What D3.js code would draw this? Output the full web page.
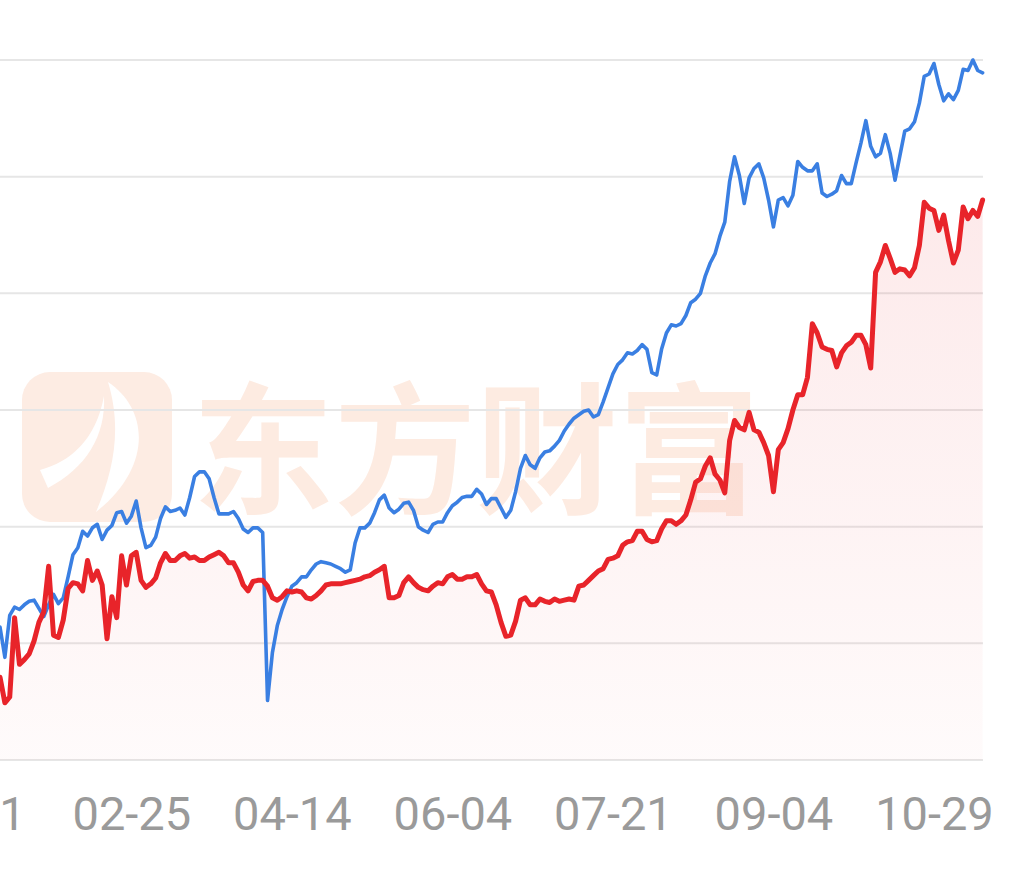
<!DOCTYPE html>
<html><head><meta charset="utf-8">
<script src="https://cdn.jsdelivr.net/npm/d3@7"></script>
<style>html,body{margin:0;padding:0;background:#fff;overflow:hidden}</style>
</head><body><svg id="chart" width="1014" height="872"></svg>
<script>
// Cumulative return (%) by trading day index
const blueSeries = [1.4,-1.2,2.4,3.1,2.9,3.3,3.6,3.7,3.0,2.3,
3.3,4.2,3.4,3.9,5.7,7.6,8.2,9.6,9.2,9.9,
10.2,8.9,9.7,10.1,11.2,11.3,10.3,10.9,12.2,9.9,
8.2,8.4,9.1,10.7,11.7,11.3,11.4,11.6,11.0,12.5,
14.3,14.7,14.7,14.1,12.5,11.1,11.1,11.1,11.3,10.7,
9.8,9.5,9.9,9.9,9.5,-4.9,-0.8,1.5,2.9,4.0,
4.9,5.2,5.7,5.7,6.3,6.8,7.0,6.9,6.8,6.6,
6.4,6.1,6.3,8.6,9.9,9.9,10.3,11.2,12.3,12.7,
11.6,11.2,11.5,12.0,12.1,11.4,10.0,9.7,9.5,10.2,
10.4,10.4,11.2,11.8,12.1,12.5,12.6,12.6,13.2,12.8,
11.9,12.4,12.4,11.6,10.8,11.4,13.0,15.0,16.1,15.3,
15.0,15.9,16.4,16.5,16.9,17.4,18.2,18.8,19.3,19.6,
19.9,20.0,19.4,19.6,20.7,21.9,23.1,23.9,24.3,24.9,
24.8,25.1,25.6,25.2,23.2,23.0,25.2,26.6,27.3,27.2,
27.4,28.1,29.2,29.5,30.0,31.5,32.6,33.4,34.9,36.1,
39.6,41.7,40.1,37.7,39.9,40.7,41.1,39.9,38.0,35.7,
38.0,38.2,37.5,38.4,41.3,40.8,40.5,40.5,41.1,38.6,
38.3,38.5,38.8,40.1,39.4,39.4,41.2,42.9,44.8,42.6,
41.7,42.0,43.6,42.0,39.7,41.8,43.9,44.1,44.7,46.3,
48.6,48.8,49.7,47.9,46.5,47.1,46.6,47.4,49.2,49.1,
50.0,49.1,48.9];

const redSeries = [-2.9,-5.1,-4.6,2.2,-1.8,-1.4,-0.9,0.2,1.8,2.7,
6.6,0.7,0.5,2.0,4.7,5.2,5.1,4.5,7.1,5.4,
6.2,5.0,0.4,4.0,2.2,7.5,5.0,7.5,7.8,5.4,
4.8,5.1,5.6,6.9,7.7,7.1,7.1,7.5,7.7,7.3,
7.4,7.1,7.1,7.4,7.6,7.8,7.5,6.9,6.9,6.1,
5.0,4.5,5.3,5.4,5.4,4.9,3.9,3.7,4.0,4.5,
4.4,4.5,4.4,3.9,3.8,4.1,4.5,5.0,5.1,5.1,
5.1,5.2,5.3,5.4,5.5,5.7,5.8,6.1,6.3,6.6,
3.9,3.9,4.1,5.2,5.7,5.2,4.8,4.6,4.5,4.9,
5.2,5.1,5.7,5.9,5.5,5.5,5.7,5.7,5.9,5.1,
4.5,4.4,3.3,1.8,0.6,0.7,1.9,3.7,3.9,3.3,
3.3,3.8,3.6,3.5,3.8,3.6,3.7,3.8,3.7,4.9,
5.0,5.4,5.8,6.2,6.4,7.2,7.3,7.5,8.4,8.7,
8.8,9.6,9.6,8.9,8.7,8.8,9.8,10.5,10.5,10.2,
10.5,11.0,12.3,13.8,14.1,15.2,15.9,14.5,14.0,12.9,
17.4,19.1,18.5,18.3,19.8,18.3,18.1,17.2,16.1,13.0,
16.6,17.2,18.4,20.0,21.3,21.3,22.8,27.4,26.6,25.4,
25.2,25.1,23.7,24.9,25.5,25.8,26.4,26.4,25.6,23.6,
31.8,32.7,34.1,33.0,31.8,32.1,32.0,31.5,32.2,34.1,
37.8,37.3,37.1,35.4,36.7,34.5,32.6,33.7,37.4,36.4,
37.1,36.6,38.0];

const tickIndex = [-7, 27, 60, 93, 126, 159, 192];
const tickLabels = ["12-31", "02-25", "04-14", "06-04", "07-21", "09-04", "10-29"];
const gridValues = [-10, 0, 10, 20, 30, 40, 50];

const svg = d3.select("#chart");
const plotRight = 983;
const x = d3.scaleLinear().domain([0, blueSeries.length - 1]).range([0, 982.6]);
const y = d3.scaleLinear().domain([-10, 50]).range([760, 60]);

const defs = svg.append("defs");
const grad = defs.append("linearGradient").attr("id", "redFill")
  .attr("gradientUnits", "userSpaceOnUse").attr("x1", 0).attr("y1", 180).attr("x2", 0).attr("y2", 760);
grad.append("stop").attr("offset", 0).attr("stop-color", "#e8242a").attr("stop-opacity", 0.10);
grad.append("stop").attr("offset", 1).attr("stop-color", "#e8242a").attr("stop-opacity", 0.02);

svg.append("rect").attr("width", 1014).attr("height", 872).attr("fill", "#fff");

// watermark
const wm = svg.append("g").attr("class", "watermark");
wm.append("rect").attr("x", 22).attr("y", 372).attr("width", 150).attr("height", 150).attr("rx", 28).attr("fill", "#fdece3");
wm.append("path").attr("d", "M108,382 C150,410 152,468 96,512 C114,470 122,428 108,382 Z").attr("fill", "#fff");
wm.append("path").attr("d", "M40,470 C70,462 96,440 104,396 C106,436 86,468 48,488 Z").attr("fill", "#fff");
wm.append("text").attr("x", 192).attr("y", 503)
  .attr("font-family", "'Noto Sans CJK SC', sans-serif").attr("font-weight", 700)
  .attr("font-size", 142).attr("fill", "#fdebe1").text("东方财富");

// grid
svg.append("g").selectAll("line").data(gridValues).join("line")
  .attr("x1", 0).attr("x2", plotRight)
  .attr("y1", d => y(d)).attr("y2", d => y(d))
  .attr("stroke", "#e6e6e6").attr("stroke-width", 2);

// red area
const area = d3.area().x((d, i) => x(i)).y0(y(-10)).y1(d => y(d));
svg.append("path").datum(redSeries).attr("d", area).attr("fill", "url(#redFill)");

const line = d3.line().x((d, i) => x(i)).y(d => y(d));
svg.append("path").datum(blueSeries).attr("d", line)
  .attr("fill", "none").attr("stroke", "#3a7fe2").attr("stroke-width", 3.6)
  .attr("stroke-linejoin", "round").attr("stroke-linecap", "round");
svg.append("path").datum(redSeries).attr("d", line)
  .attr("fill", "none").attr("stroke", "#e8242a").attr("stroke-width", 5)
  .attr("stroke-linejoin", "round").attr("stroke-linecap", "round");

// x axis
const xAxis = d3.axisBottom(x).tickValues(tickIndex).tickFormat((d, i) => tickLabels[i]).tickSize(0);
const ax = svg.append("g").call(xAxis);
ax.select(".domain").remove();
ax.selectAll("text").attr("y", 830).attr("dy", 0)
  .attr("font-family", "Roboto, sans-serif").attr("font-size", 47)
  .attr("fill", "#9a9a9a");
</script></body></html>
